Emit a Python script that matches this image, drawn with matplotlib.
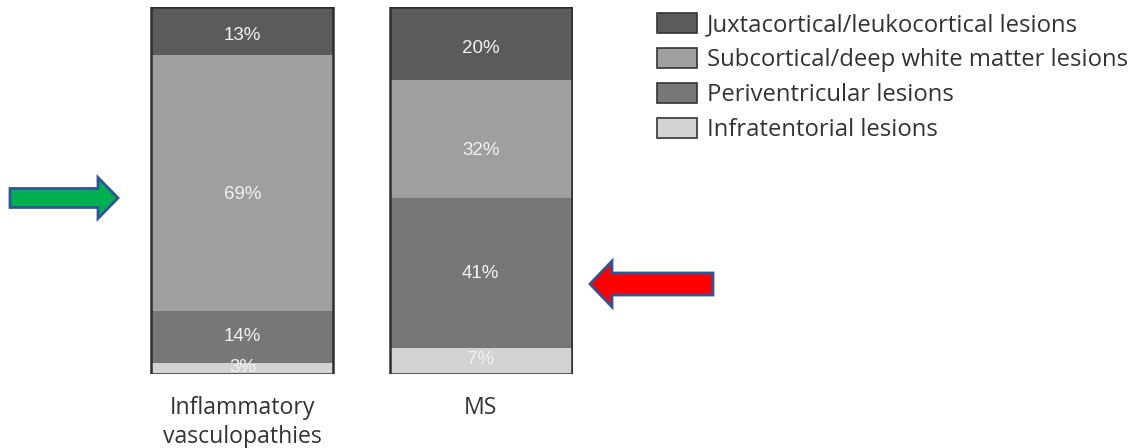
import numpy as np
import matplotlib.pyplot as plt
from matplotlib.patches import Patch, FancyArrow

plt.rcParams['font.family'] = ['Open Sans', 'DejaVu Sans']

# lesion distribution (%) per group
groups = ['Inflammatory\nvasculopathies', 'MS']
lesion_types = ['Juxtacortical/leukocortical lesions',
                'Subcortical/deep white matter lesions',
                'Periventricular lesions',
                'Infratentorial lesions']
juxtacortical = [13, 20]
subcortical = [69, 32]
periventricular = [14, 41]
infratentorial = [3, 7]

colors = ['#5b5b5b', '#9f9f9f', '#777777', '#d3d3d3']

fig = plt.figure(figsize=(11.35, 4.48), dpi=100)
W, H = 1135, 448

# bar area
ax = fig.add_axes([150 / W, (H - 374) / H, (573 - 150) / W, 367 / H])
x = np.arange(len(groups))
bw = 0.765

# stack from the bottom: infratentorial, periventricular, subcortical, juxtacortical
stack = [infratentorial, periventricular, subcortical, juxtacortical]
stack_colors = colors[::-1]
# small vertical nudges (points) for the value labels of each layer
label_shift = [1, 0, -8.5, -3.5]
totals = np.sum(np.array(stack, dtype=float), axis=0)
bottom = np.zeros(len(groups))
for vals, col, dy in zip(stack, stack_colors, label_shift):
    vals = np.array(vals, dtype=float)
    h = vals / totals * 100
    ax.bar(x, h, bw, bottom=bottom, color=col, edgecolor='none')
    for xi, b, hh, v in zip(x, bottom, h, vals):
        ax.annotate(f'{v:.0f}%', (xi, b + hh / 2), xytext=(0, dy),
                    textcoords='offset points', ha='center', va='center',
                    color='#f2f2f2', fontsize=13.5, family='Liberation Sans')
    bottom += h

# outline around each bar
ax.bar(x, 100, bw, fill=False, edgecolor='#2e2e2e', linewidth=1.8)
ax.set_xlim(-bw / 2 - 0.005, 1 + bw / 2 + 0.005)
ax.set_ylim(0, 100)
ax.axis('off')

# group labels below bars
for xi, g in zip(x, groups):
    ax.text(xi, -6, g, ha='center', va='top', fontsize=16.6, color='#333333',
            linespacing=1.25)

# legend
handles = [Patch(facecolor=c, edgecolor='#333333', linewidth=1.2) for c in colors]
fig.legend(handles, lesion_types, loc='upper left',
           bbox_to_anchor=(657 / W, 1 - 13 / H), frameon=False,
           borderpad=0, borderaxespad=0,
           fontsize=17.2, handlelength=1.68, handleheight=0.92,
           handletextpad=0.4, labelspacing=0.45, labelcolor='#333333')

# overlay for the pointer arrows
ov = fig.add_axes([0, 0, 1, 1], zorder=5)
ov.set_xlim(0, W)
ov.set_ylim(H, 0)
ov.axis('off')
ov.add_patch(FancyArrow(10, 198, 108, 0, width=19, head_width=41,
                        head_length=20, length_includes_head=True,
                        facecolor='#00b050', edgecolor='#2f5597', linewidth=2))
ov.add_patch(FancyArrow(713, 284, -123, 0, width=22, head_width=46,
                        head_length=22, length_includes_head=True,
                        facecolor='#ff0000', edgecolor='#2f5597', linewidth=2))

fig.savefig('out.png', dpi=100)
